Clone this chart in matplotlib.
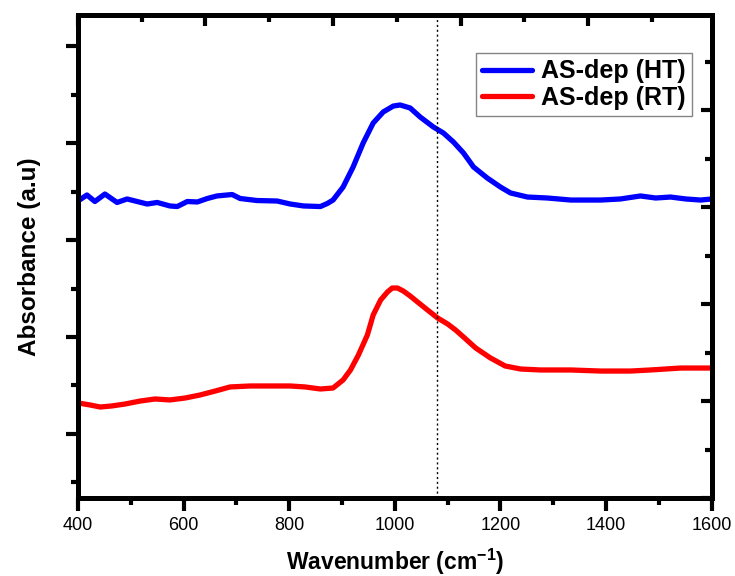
import matplotlib
matplotlib.use("Agg")
import matplotlib.pyplot as plt
from matplotlib.ticker import MultipleLocator, NullFormatter

plt.rcParams['font.family'] = ['Liberation Sans', 'DejaVu Sans']
plt.rcParams['mathtext.fontset'] = 'custom'
plt.rcParams['mathtext.rm'] = 'Liberation Sans:bold'
plt.rcParams['mathtext.bf'] = 'Liberation Sans:bold'
plt.rcParams['axes.unicode_minus'] = False

# FTIR spectra (absorbance in arbitrary units)
wn_ht = [400, 417, 432, 451, 474, 493, 512, 531, 550, 574, 588, 607, 626, 645, 663,
         692, 707, 739, 777, 802, 827, 859, 872, 883, 902, 921, 940, 959, 978, 997,
         1010, 1029, 1048, 1073, 1092, 1111, 1130, 1149, 1175, 1200, 1219, 1251,
         1289, 1333, 1390, 1427, 1465, 1494, 1522, 1551, 1579, 1600]
abs_ht = [2.402, 2.464, 2.397, 2.474, 2.387, 2.423, 2.397, 2.371, 2.387, 2.351,
          2.345, 2.397, 2.392, 2.428, 2.454, 2.469, 2.428, 2.407, 2.402, 2.371,
          2.351, 2.345, 2.376, 2.412, 2.546, 2.753, 3.000, 3.206, 3.320, 3.381,
          3.392, 3.361, 3.268, 3.165, 3.103, 3.010, 2.897, 2.753, 2.639, 2.546,
          2.485, 2.443, 2.433, 2.412, 2.412, 2.423, 2.454, 2.433, 2.443, 2.423,
          2.412, 2.423]

wn_rt = [400, 423, 442, 464, 489, 518, 546, 574, 603, 631, 660, 688, 726, 764, 802,
         830, 859, 883, 902, 916, 931, 948, 959, 973, 986, 995, 1005, 1016, 1029,
         1043, 1062, 1081, 1100, 1115, 1130, 1153, 1181, 1209, 1238, 1276, 1333,
         1390, 1446, 1484, 1513, 1541, 1579, 1600]
abs_rt = [0.320, 0.299, 0.278, 0.289, 0.309, 0.340, 0.361, 0.351, 0.371, 0.402,
          0.443, 0.485, 0.495, 0.495, 0.495, 0.485, 0.464, 0.474, 0.557, 0.660,
          0.814, 1.021, 1.227, 1.381, 1.464, 1.505, 1.505, 1.474, 1.423, 1.361,
          1.278, 1.196, 1.134, 1.072, 1.000, 0.887, 0.784, 0.701, 0.670, 0.660,
          0.660, 0.649, 0.649, 0.660, 0.670, 0.680, 0.680, 0.680]

marker_wn = 1080
x_ticks = [400, 600, 800, 1000, 1200, 1400, 1600]
labels = ["AS-dep (HT)", "AS-dep (RT)"]

fig = plt.figure(figsize=(7.35, 5.76), dpi=100)
ax = fig.add_axes([0.1061, 0.1354, 0.8622, 0.8386])

ax.plot(wn_ht, abs_ht, color='#0000ff', lw=3.8, label=labels[0],
        solid_capstyle='round', solid_joinstyle='round')
ax.plot(wn_rt, abs_rt, color='#ff0000', lw=3.8, label=labels[1],
        solid_capstyle='round', solid_joinstyle='round')
ax.axvline(marker_wn, color='black', lw=1.0, ls=(0, (1.5, 2.0)))

ax.set_xlim(400, 1600)
ax.set_ylim(-0.66, 4.32)
ax.set_xticks(x_ticks)
ax.xaxis.set_minor_locator(MultipleLocator(100))
ax.yaxis.set_major_locator(MultipleLocator(1))
ax.yaxis.set_minor_locator(MultipleLocator(0.5))
ax.yaxis.set_major_formatter(NullFormatter())
ax.tick_params(axis='both', which='major', direction='out', length=9, width=3, labelsize=13)
ax.tick_params(axis='both', which='minor', direction='out', length=5, width=3)
ax.tick_params(axis='x', pad=5)

for sp in ax.spines.values():
    sp.set_linewidth(3.6)

# secondary frame ticks on the top and right edges
top = ax.twiny()
top.set_xlim(0, 4.97)
top.xaxis.set_major_locator(MultipleLocator(1))
top.xaxis.set_minor_locator(MultipleLocator(0.5))
top.xaxis.set_major_formatter(NullFormatter())
top.tick_params(axis='x', which='major', direction='in', length=8, width=3)
top.tick_params(axis='x', which='minor', direction='in', length=5, width=3)
top.yaxis.set_visible(False)
for sp in top.spines.values():
    sp.set_visible(False)

right = ax.twinx()
right.set_ylim(0, 4.98)
right.yaxis.set_major_locator(MultipleLocator(1))
right.yaxis.set_minor_locator(MultipleLocator(0.5))
right.yaxis.set_major_formatter(NullFormatter())
right.tick_params(axis='y', which='major', direction='in', length=8, width=3)
right.tick_params(axis='y', which='minor', direction='in', length=5, width=3)
for sp in right.spines.values():
    sp.set_visible(False)

ax.set_xlabel("Wavenumber (cm$^{-1}$)", fontsize=16.5, fontweight='bold', labelpad=9)
ax.set_ylabel("Absorbance (a.u)", fontsize=17.5, fontweight='bold', labelpad=14)

leg = ax.legend(loc='upper right', bbox_to_anchor=(0.969, 0.921),
                prop={'weight': 'bold', 'size': 18}, frameon=True, fancybox=False,
                handlelength=2.0, handletextpad=0.35, borderpad=0.25, labelspacing=0.1,
                borderaxespad=0.0)
leg.get_frame().set_edgecolor('#666666')
leg.get_frame().set_linewidth(1.0)

fig.savefig("out.png", dpi=100)
